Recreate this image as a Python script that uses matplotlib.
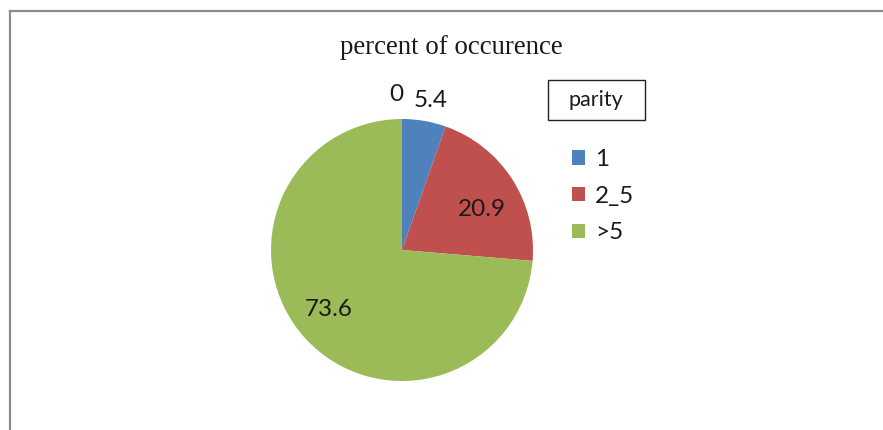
import numpy as np
import matplotlib.pyplot as plt
from matplotlib.patches import Rectangle
from matplotlib.lines import Line2D

# data
categories = ['0', '1', '2_5', '>5']
values = [0, 5.4, 20.9, 73.6]
legend_labels = ['1', '2_5', '>5']
colors = ['#4F81BD', '#4F81BD', '#C0504D', '#9BBB59']

W, H = 883, 430
fig = plt.figure(figsize=(W / 100, H / 100), dpi=100)

# outer chart frame (only top and left edge visible)
fig.add_artist(Line2D([10 / W, 10 / W], [0, 1 - 11 / H], color='#8c8c8c', lw=1.6))
fig.add_artist(Line2D([10 / W, 1], [1 - 11 / H, 1 - 11 / H], color='#8c8c8c', lw=1.6))

# pie axes: centre (402,250) px, radius 131 px
cx, cy, r = 402, 250, 131
half = 1.25 * r
ax = fig.add_axes([(cx - half) / W, (H - cy - half) / H, 2 * half / W, 2 * half / H])
wedges, _ = ax.pie(values, colors=colors, startangle=90, counterclock=False,
                   wedgeprops=dict(linewidth=0))
ax.set_xlim(-1.25, 1.25)
ax.set_ylim(-1.25, 1.25)
ax.set_aspect('equal')
ax.axis('off')

lab_font = dict(family=['Lato', 'DejaVu Sans'], size=17.5, color='#1a1a1a')
# label distances (fraction of radius) and small angle shifts to follow the original
dist = [1.19, 1.165, 0.68, 0.72]
shift = [2, -1, -6, -3.4]
for w, v, d, s in zip(wedges, values, dist, shift):
    ang = np.deg2rad((w.theta1 + w.theta2) / 2 + s)
    txt = ('%g' % v)
    ax.text(d * np.cos(ang), d * np.sin(ang), txt, ha='center', va='center', **lab_font)

fig.text(451 / W, 1 - 48 / H, 'percent of occurence', ha='center', va='center',
         family=['Liberation Serif'], size=19.3, color='#1a1a1a')

# legend title box
fig.add_artist(Rectangle((548 / W, 1 - 120 / H), 97 / W, 40 / H, transform=fig.transFigure,
                         fill=False, edgecolor='#222222', lw=1.0))
fig.text(596 / W, 1 - 100 / H, 'parity', ha='center', va='center',
         family=['Lato', 'DejaVu Sans'], size=15.5, color='#1a1a1a')

leg = fig.legend(wedges[1:], legend_labels, loc='upper left',
                 bbox_to_anchor=(567 / W, 1 - 144 / H), frameon=False,
                 prop=dict(family=['Lato', 'DejaVu Sans'], size=17.5),
                 handlelength=0.55, handleheight=0.55, handletextpad=0.4,
                 labelspacing=0.65, borderaxespad=0, borderpad=0.2)
for t in leg.get_texts():
    t.set_color('#1a1a1a')

plt.savefig('out.png', dpi=100)
